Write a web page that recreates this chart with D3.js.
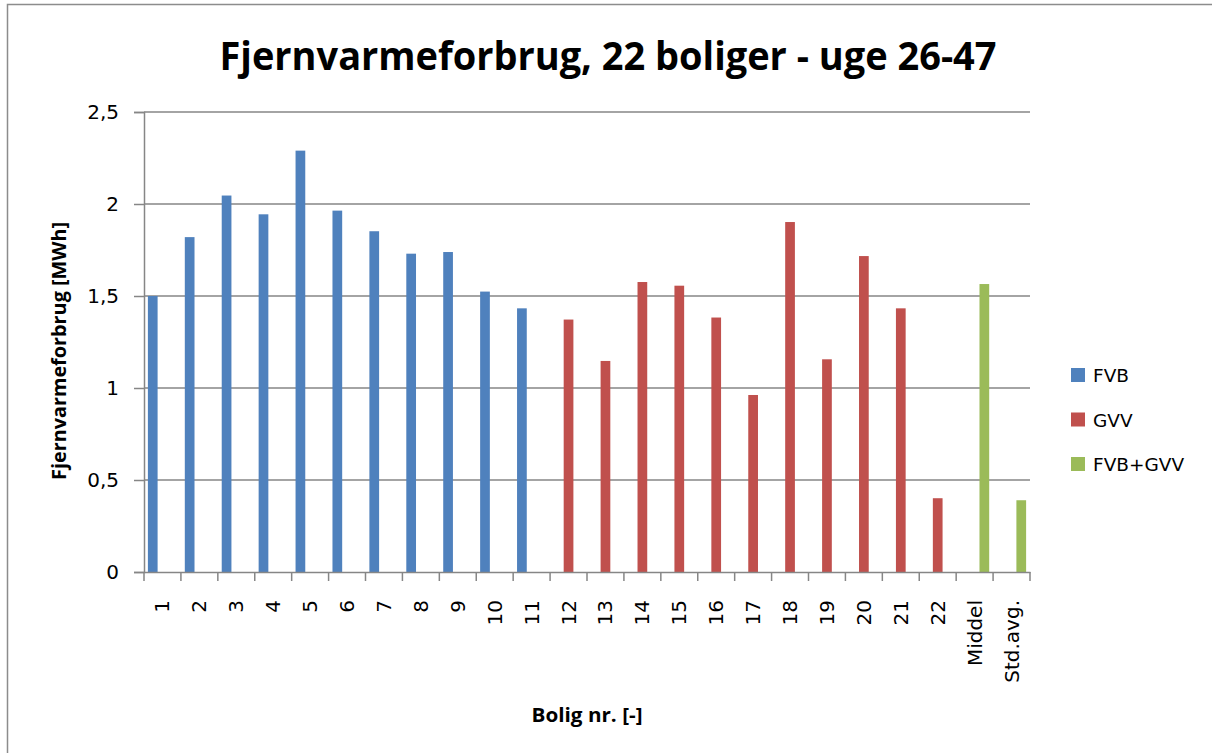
<!DOCTYPE html>
<html>
<head>
<meta charset="utf-8">
<script src="https://cdn.jsdelivr.net/npm/d3@7"></script>
<style>
  body { margin: 0; background: #fff; }
  text { fill: #000; }
</style>
</head>
<body>
<div id="container"></div>
<script>
const categories = ["1","2","3","4","5","6","7","8","9","10","11","12","13","14","15","16","17","18","19","20","21","22","Middel","Std.avg."];
const seriesNames = ["FVB", "GVV", "FVB+GVV"];
const fvb = [1.50, 1.82, 2.046, 1.944, 2.29, 1.964, 1.852, 1.73, 1.739, 1.524, 1.433,
  null, null, null, null, null, null, null, null, null, null, null, null, null];
const gvv = [null, null, null, null, null, null, null, null, null, null, null,
  1.372, 1.147, 1.576, 1.556, 1.383, 0.962, 1.902, 1.156, 1.717, 1.433, 0.401, null, null];
const fvbGvv = [null, null, null, null, null, null, null, null, null, null, null,
  null, null, null, null, null, null, null, null, null, null, null, 1.565, 0.39];
const yTicks = [0, 0.5, 1, 1.5, 2, 2.5];
const colors = ["#4F81BD", "#C0504D", "#9BBB59"];

const w = 1212;
const h = 753;
const plotLeft = 144, plotRight = 1030, plotTop = 112, plotBottom = 572;

const svg = d3.select("#container")
  .append("svg")
  .attr("width", w)
  .attr("height", h);

// outer chart frame
svg.append("rect")
  .attr("x", 7.5).attr("y", 4.5)
  .attr("width", 1215).attr("height", 760)
  .attr("fill", "#fff")
  .attr("stroke", "#8c8c8c")
  .attr("stroke-width", 1.5);

const x0 = d3.scaleBand().domain(categories).range([plotLeft, plotRight]).padding(0);
const x1 = d3.scaleBand().domain(seriesNames).range([0, x0.bandwidth()])
  .paddingInner(0).paddingOuter(0.4);
const y = d3.scaleLinear().domain([0, 2.5]).range([plotBottom, plotTop]);

// gridlines
svg.append("g")
  .selectAll("line")
  .data(yTicks.filter(d => d > 0))
  .join("line")
  .attr("x1", plotLeft).attr("x2", plotRight)
  .attr("y1", d => y(d)).attr("y2", d => y(d))
  .attr("stroke", "#868686")
  .attr("stroke-width", 1.5);

// bars
const series = [fvb, gvv, fvbGvv];
const barData = [];
series.forEach((vals, si) => {
  vals.forEach((v, i) => {
    if (v != null) barData.push({ cat: categories[i], s: seriesNames[si], v: v, c: colors[si] });
  });
});

svg.append("g")
  .selectAll("rect")
  .data(barData)
  .join("rect")
  .attr("x", d => x0(d.cat) + x1(d.s))
  .attr("y", d => y(d.v))
  .attr("width", x1.bandwidth())
  .attr("height", d => y(0) - y(d.v))
  .attr("fill", d => d.c);

// y axis
const yAxis = svg.append("g")
  .attr("transform", `translate(${plotLeft},0)`)
  .call(d3.axisLeft(y).tickValues(yTicks).tickSize(10).tickPadding(15)
    .tickFormat(d => String(d).replace(".", ",")));
yAxis.select(".domain").attr("stroke", "#868686").attr("stroke-width", 1.5);
yAxis.selectAll(".tick line").attr("stroke", "#868686").attr("stroke-width", 1.5);
yAxis.selectAll(".tick text")
  .style("font-family", "DejaVu Sans")
  .style("font-size", "20px")
  .attr("fill", "#000");

// x axis
const xAxis = svg.append("g")
  .attr("transform", `translate(0,${plotBottom})`)
  .call(d3.axisBottom(x0).tickSize(0).tickSizeOuter(0).tickPadding(0));
xAxis.select(".domain").attr("stroke", "#868686").attr("stroke-width", 1.5);
xAxis.selectAll(".tick text")
  .attr("transform", "rotate(-90)")
  .attr("x", -28).attr("y", 0).attr("dy", "0.35em")
  .attr("text-anchor", "end")
  .style("font-family", "DejaVu Sans")
  .style("font-size", "20px")
  .attr("fill", "#000");

// category boundary ticks
const bounds = categories.map(c => x0(c)).concat([plotRight]);
svg.append("g")
  .selectAll("line")
  .data(bounds)
  .join("line")
  .attr("x1", d => d).attr("x2", d => d)
  .attr("y1", plotBottom).attr("y2", plotBottom + 9)
  .attr("stroke", "#868686")
  .attr("stroke-width", 1.5);

// title
svg.append("text")
  .attr("x", 608).attr("y", 70)
  .attr("text-anchor", "middle")
  .attr("textLength", 777)
  .attr("lengthAdjust", "spacingAndGlyphs")
  .style("font-family", "Open Sans")
  .style("font-weight", "bold")
  .style("font-size", "40px")
  .text("Fjernvarmeforbrug, 22 boliger - uge 26-47");

// axis titles
svg.append("text")
  .attr("transform", "translate(66,351) rotate(-90)")
  .attr("text-anchor", "middle")
  .attr("textLength", 258)
  .attr("lengthAdjust", "spacingAndGlyphs")
  .style("font-family", "Open Sans")
  .style("font-weight", "bold")
  .style("font-size", "20px")
  .text("Fjernvarmeforbrug [MWh]");

svg.append("text")
  .attr("x", 587).attr("y", 722)
  .attr("text-anchor", "middle")
  .attr("textLength", 111)
  .attr("lengthAdjust", "spacingAndGlyphs")
  .style("font-family", "Open Sans")
  .style("font-weight", "bold")
  .style("font-size", "20px")
  .text("Bolig nr. [-]");

// legend
const legend = svg.append("g")
  .selectAll("g")
  .data(seriesNames)
  .join("g")
  .attr("transform", (d, i) => `translate(1071,${368 + i * 44.5})`);
legend.append("rect")
  .attr("width", 14).attr("height", 14)
  .attr("fill", (d, i) => colors[i]);
legend.append("text")
  .attr("x", 22).attr("y", 14)
  .style("font-family", "DejaVu Sans")
  .style("font-size", "18.5px")
  .text(d => d);
</script>
</body>
</html>
